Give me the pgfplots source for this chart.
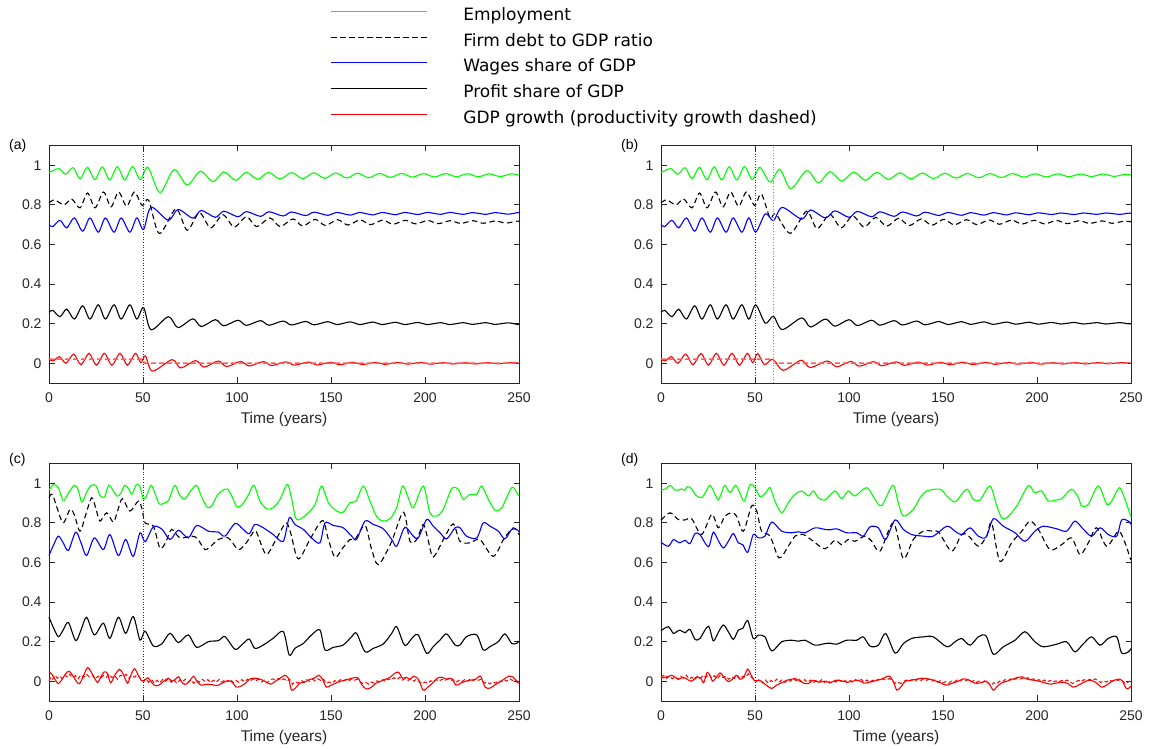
\documentclass[border=0pt]{standalone}
\usepackage{fontspec}
\setmainfont{Liberation Sans}
\newfontfamily\legfont{DejaVu Sans}
\usepackage{pgfplots}
\pgfplotsset{compat=1.18}
\definecolor{axgray}{RGB}{38,38,38}
\definecolor{mgreen}{RGB}{0,255,0}
\definecolor{prodred}{RGB}{255,90,90}
\tikzset{
 emp/.style={color=mgreen, line width=1.1pt, smooth, tension=0.5},
 debt/.style={color=black, line width=1.1pt, dash pattern=on 5.5pt off 3.5pt, smooth, tension=0.5},
 wag/.style={color=blue, line width=1.1pt, smooth, tension=0.5},
 prof/.style={color=black, line width=1.1pt, smooth, tension=0.5},
 gdp/.style={color=red, line width=1.1pt, smooth, tension=0.5},
 prod/.style={color=prodred, line width=1.5pt, dash pattern=on 5pt off 3pt},
 prodn/.style={color=red, line width=1pt, dash pattern=on 4pt off 2.5pt},
 vline/.style={color=black!80, line width=0.6pt, dotted},
 vline2/.style={color=black!45, line width=0.8pt, dotted},
}
\pgfplotsset{panel/.style={
  scale only axis, width=470pt, height=237.5pt,
  xmin=0, xmax=250, ymin=-0.1, ymax=1.1,
  xtick={0,50,100,150,200,250}, ytick={0,0.2,0.4,0.6,0.8,1},
  tick align=inside, major tick length=5.5pt,
  axis line style={color=axgray, line width=0.8pt},
  every tick/.style={color=axgray, line width=0.8pt},
  tick label style={font=\fontsize{14}{16}\selectfont, text=axgray},
  /pgf/number format/assume math mode=true,
  yticklabel style={/pgf/number format/fixed, xshift=-4pt},
  xticklabel style={yshift=-6pt},
  xlabel={Time (years)},
  xlabel style={font=\fontsize{15.5}{18}\selectfont, text=axgray, at={(axis description cs:0.5,-0.171)}, anchor=base},
  clip=false,
}}
\begin{document}
\begin{tikzpicture}
\useasboundingbox (0,0) rectangle (1152pt,749pt);
% ---------------- (a)
\begin{axis}[panel, at={(49pt,366pt)}, anchor=south west,
  legend style={draw=none, fill=none, at={(axis description cs:0.599,1.581)}, anchor=north west,
    inner sep=0pt, row sep=8.6pt, font=\legfont\fontsize{17}{20}\selectfont,
    nodes={inner sep=0pt, text height=13pt, text depth=4pt},
    /tikz/every odd column/.append style={column sep=36pt}},
  legend cell align=left,
  legend image code/.code={\draw[#1] (0pt,4.5pt) -- (95.5pt,4.5pt);}]
\addplot[emp] coordinates {(0,0.963) (2.5,0.975) (5.5,0.983) (8.9,0.955) (12.8,0.988) (16.5,0.932) (20.4,0.99) (24.4,0.927) (28.3,0.992) (32.3,0.926) (36.3,0.993) (40.3,0.926) (44.4,0.993) (48.6,0.928) (52.6,0.99) (59,0.862) (66.5,0.978) (73.5,0.9) (80.5,0.97) (87.3,0.917) (93,0.967) (99.3,0.924) (105,0.965) (111,0.929) (116.7,0.964) (122.9,0.931) (129,0.963) (135,0.932) (140.8,0.962) (146.7,0.934) (152.5,0.961) (158.4,0.936) (164.2,0.96) (170,0.937) (175.8,0.959) (181.7,0.939) (187.5,0.959) (193.4,0.94) (199.2,0.958) (205,0.941) (210.9,0.958) (216.7,0.942) (222.5,0.957) (228.4,0.942) (234.2,0.957) (240,0.943) (245.9,0.957) (250,0.95)};
\addlegendentry{Employment}
\addplot[debt] coordinates {(0,0.81) (3,0.825) (8,0.80) (12,0.83) (16.5,0.785) (20.5,0.86) (24.5,0.785) (29,0.865) (33,0.79) (37,0.865) (41.3,0.793) (45.4,0.865) (49.6,0.797) (53,0.824) (58.7,0.655) (67.5,0.78) (73.5,0.672) (80,0.76) (86,0.684) (92.5,0.75) (98.5,0.688) (105,0.74) (110.5,0.69) (117.5,0.734) (123,0.69) (129.7,0.729) (135,0.693) (141.5,0.727) (147,0.696) (153.5,0.725) (159,0.698) (165.5,0.724) (171,0.70) (177.5,0.723) (183,0.702) (189.5,0.722) (195,0.704) (201.5,0.721) (207,0.705) (213.5,0.72) (219,0.706) (225.5,0.72) (231,0.707) (237.5,0.719) (243,0.708) (249,0.718) (250,0.717)};
\addlegendentry{Firm debt to GDP ratio}
\addplot[wag] coordinates {(0,0.70) (2,0.69) (5.8,0.722) (9.4,0.684) (13.5,0.734) (17.9,0.667) (21.8,0.734) (26.2,0.662) (30,0.734) (34.6,0.662) (38.4,0.734) (43,0.662) (46.7,0.734) (50.3,0.676) (54.3,0.788) (63.5,0.722) (68.6,0.777) (76.5,0.733) (81,0.772) (88.5,0.737) (93,0.768) (100.5,0.74) (105,0.766) (112.5,0.742) (117,0.765) (124.5,0.744) (129,0.764) (136.5,0.746) (141,0.763) (148.5,0.747) (153,0.762) (160.5,0.748) (165,0.762) (172.5,0.749) (177,0.762) (184.5,0.75) (189,0.762) (196.5,0.751) (201,0.762) (208.5,0.752) (213,0.762) (220.5,0.752) (225,0.761) (232.5,0.752) (237,0.761) (244.5,0.753) (249,0.761) (250,0.76)};
\addlegendentry{Wages share of GDP}
\addplot[prof] coordinates {(0,0.257) (2,0.267) (5.8,0.235) (9.4,0.273) (13.5,0.223) (17.9,0.29) (21.8,0.223) (26.2,0.295) (30,0.223) (34.6,0.295) (38.4,0.223) (43,0.295) (46.7,0.223) (50.3,0.281) (54.3,0.169) (63.5,0.235) (68.6,0.18) (76.5,0.224) (81,0.185) (88.5,0.22) (93,0.189) (100.5,0.217) (105,0.191) (112.5,0.215) (117,0.192) (124.5,0.213) (129,0.193) (136.5,0.211) (141,0.194) (148.5,0.21) (153,0.195) (160.5,0.209) (165,0.195) (172.5,0.208) (177,0.195) (184.5,0.207) (189,0.195) (196.5,0.206) (201,0.195) (208.5,0.205) (213,0.195) (220.5,0.205) (225,0.196) (232.5,0.205) (237,0.196) (244.5,0.204) (249,0.196) (250,0.197)};
\addlegendentry{Profit share of GDP}
\addplot[gdp] coordinates {(0,0.02) (2.3,0.012) (5.6,0.033) (9,0.0) (13.2,0.046) (17,-0.008) (21.3,0.05) (25.2,-0.01) (29.5,0.05) (33.4,-0.01) (37.8,0.05) (41.7,-0.01) (46,0.05) (48.8,0.003) (51.3,0.037) (55,-0.04) (65.5,0.018) (70,-0.024) (78,0.013) (82.5,-0.02) (90,0.011) (94.5,-0.017) (102,0.009) (106.5,-0.014) (114,0.008) (118.5,-0.012) (126,0.007) (130.5,-0.01) (138,0.006) (142.5,-0.009) (150,0.005) (154.5,-0.008) (162,0.005) (166.5,-0.007) (174,0.004) (178.5,-0.006) (186,0.004) (190.5,-0.005) (198,0.004) (202.5,-0.005) (210,0.003) (214.5,-0.004) (222,0.003) (226.5,-0.004) (234,0.003) (238.5,-0.003) (246,0.003) (250,0.0)};
\addlegendentry{GDP growth (productivity growth dashed)}
\addplot[prod, forget plot] coordinates {(0,0.02) (49.5,0.02) (51,0.0) (250,0.0)};
\addplot[vline, forget plot] coordinates {(50,-0.1) (50,1.1)};
\node[anchor=west, inner sep=0pt, font=\fontsize{14}{16}\selectfont, text=black] at (rel axis cs:-0.0851,1) {(a)};
\end{axis}
% ---------------- (b)
\begin{axis}[panel, at={(661pt,366pt)}, anchor=south west]
\addplot[emp] coordinates {(0,0.963) (2.5,0.975) (5.5,0.983) (8.9,0.955) (12.8,0.988) (16.5,0.932) (20.4,0.99) (24.4,0.927) (28.3,0.992) (32.3,0.926) (36.3,0.993) (40.3,0.926) (44.4,0.993) (48.6,0.928) (52.6,0.99) (58,0.915) (63.2,0.98) (69,0.882) (77.5,0.973) (83.7,0.911) (89.9,0.968) (96.1,0.92) (102.5,0.966) (108.7,0.924) (114.8,0.964) (121,0.928) (127,0.962) (133,0.931) (139,0.961) (145,0.933) (151,0.96) (157,0.935) (163,0.959) (169,0.937) (175,0.958) (181,0.938) (187,0.958) (193,0.94) (199,0.957) (205,0.941) (211,0.957) (217,0.942) (223,0.956) (229,0.943) (235,0.956) (241,0.944) (247,0.955) (250,0.95)};
\addplot[debt] coordinates {(0,0.81) (3,0.825) (8,0.80) (12,0.83) (16.5,0.785) (20.5,0.86) (24.5,0.785) (29,0.865) (33,0.79) (37,0.865) (41.3,0.793) (45.4,0.865) (49.8,0.797) (53.4,0.855) (58,0.734) (61,0.755) (68.8,0.656) (77.5,0.768) (83,0.68) (89.8,0.752) (95.8,0.684) (102,0.744) (108,0.688) (114.2,0.737) (120,0.692) (126.4,0.732) (132,0.695) (138.5,0.729) (144,0.697) (150.5,0.727) (156,0.699) (162.5,0.725) (168,0.7) (174.5,0.724) (180,0.702) (186.5,0.723) (192,0.703) (198.5,0.722) (204,0.704) (210.5,0.721) (216,0.705) (222.5,0.72) (228,0.706) (234.5,0.719) (240,0.707) (246.5,0.718) (250,0.714)};
\addplot[wag] coordinates {(0,0.70) (2,0.69) (5.8,0.722) (9.4,0.684) (13.5,0.734) (17.9,0.667) (21.8,0.734) (26.2,0.662) (30,0.734) (34.6,0.662) (38.4,0.734) (43,0.662) (46.7,0.734) (50.4,0.663) (55.5,0.755) (59.8,0.72) (64.5,0.787) (74.8,0.728) (79.5,0.774) (87.5,0.734) (92.5,0.77) (100,0.737) (104.5,0.767) (112,0.74) (116.5,0.765) (124,0.742) (128.5,0.764) (136,0.744) (140.5,0.763) (148,0.746) (152.5,0.762) (160,0.747) (164.5,0.761) (172,0.748) (176.5,0.761) (184,0.749) (188.5,0.76) (196,0.75) (200.5,0.76) (208,0.751) (212.5,0.759) (220,0.751) (224.5,0.759) (232,0.752) (236.5,0.759) (244,0.752) (248.5,0.758) (250,0.757)};
\addplot[prof] coordinates {(0,0.257) (2,0.267) (5.8,0.235) (9.4,0.273) (13.5,0.223) (17.9,0.29) (21.8,0.223) (26.2,0.295) (30,0.223) (34.6,0.295) (38.4,0.223) (43,0.295) (46.7,0.223) (50.4,0.294) (55.5,0.202) (59.8,0.237) (64.5,0.17) (74.8,0.229) (79.5,0.183) (87.5,0.223) (92.5,0.187) (100,0.22) (104.5,0.19) (112,0.217) (116.5,0.192) (124,0.215) (128.5,0.193) (136,0.213) (140.5,0.194) (148,0.211) (152.5,0.195) (160,0.21) (164.5,0.196) (172,0.209) (176.5,0.196) (184,0.208) (188.5,0.197) (196,0.207) (200.5,0.197) (208,0.206) (212.5,0.198) (220,0.206) (224.5,0.198) (232,0.205) (236.5,0.198) (244,0.205) (248.5,0.199) (250,0.2)};
\addplot[gdp] coordinates {(0,0.02) (2.3,0.012) (5.6,0.033) (9,0.0) (13.2,0.046) (17,-0.008) (21.3,0.05) (25.2,-0.01) (29.5,0.05) (33.4,-0.01) (37.8,0.05) (41.7,-0.01) (46,0.05) (48.8,0.002) (51.4,0.049) (55,-0.007) (59.5,0.02) (65,-0.036) (74.5,0.015) (79.3,-0.022) (88.5,0.011) (93.5,-0.018) (101,0.009) (105.5,-0.015) (113,0.008) (117.5,-0.013) (125,0.007) (129.5,-0.011) (137,0.006) (141.5,-0.01) (149,0.005) (153.5,-0.008) (161,0.005) (165.5,-0.007) (173,0.004) (177.5,-0.006) (185,0.004) (189.5,-0.005) (197,0.004) (201.5,-0.005) (209,0.003) (213.5,-0.004) (221,0.003) (225.5,-0.004) (233,0.003) (237.5,-0.003) (245,0.003) (250,0.0)};
\addplot[prod] coordinates {(0,0.02) (59.5,0.02) (61,0.0) (250,0.0)};
\addplot[vline] coordinates {(50,-0.1) (50,1.1)};
\addplot[vline2] coordinates {(60,-0.1) (60,1.1)};
\node[anchor=west, inner sep=0pt, font=\fontsize{14}{16}\selectfont, text=black] at (rel axis cs:-0.0851,1) {(b)};
\end{axis}
% ---------------- (c)
\begin{axis}[panel, at={(49pt,48pt)}, anchor=south west]
\addplot[emp] coordinates {(0,0.965) (2.3,0.993) (5,0.978) (7.6,0.912) (10.3,0.95) (13.5,0.99) (15.6,0.965) (17.5,0.905) (20.3,0.96) (22.5,0.99) (25,0.988) (27,0.94) (29.5,0.93) (31.7,0.99) (34,0.965) (36.2,0.935) (38.2,0.95) (40.2,0.99) (42.2,0.975) (44.2,0.945) (46.2,0.99) (48.2,0.988) (50.2,0.92) (51.8,0.935) (54.3,0.99) (56.5,0.945) (58.7,0.895) (61.3,0.9) (63.7,0.915) (66.9,0.99) (69.5,0.94) (72.2,0.92) (75.3,0.96) (78.5,0.99) (80.8,0.94) (84,0.88) (86.5,0.885) (89.5,0.94) (92.5,0.965) (95,0.97) (97.5,0.93) (100,0.88) (103,0.895) (106,0.94) (109,0.99) (112.2,0.91) (115.8,0.87) (119.3,0.877) (122.9,0.919) (126.8,0.995) (129.1,0.92) (131.7,0.817) (137,0.843) (141.5,0.893) (145,0.986) (148.6,0.902) (153,0.86) (156.5,0.854) (160.1,0.902) (163.3,0.91) (167.2,0.986) (170.7,0.91) (174.3,0.831) (177.8,0.809) (181.4,0.821) (184.9,0.876) (188.1,0.986) (191.1,0.927) (193.8,0.876) (199.1,0.986) (202.6,0.851) (206.2,0.834) (209.7,0.868) (214.2,0.973) (217.7,0.97) (220.4,0.919) (223.9,0.944) (227.5,0.944) (230.1,0.986) (233.7,0.919) (237.2,0.865) (240.8,0.876) (246.1,0.978) (248.7,0.955) (250,0.935)};
\addplot[debt] coordinates {(0,0.927) (1.8,0.944) (4.5,0.87) (7.6,0.8) (11.2,0.868) (13.5,0.84) (16.5,0.758) (19.5,0.84) (22.7,0.927) (25,0.87) (27.1,0.809) (30.7,0.851) (34.2,0.804) (36.5,0.86) (39,0.922) (43.1,0.86) (47.5,0.91) (49.5,0.87) (51.1,0.8) (55.5,0.784) (59,0.673) (62,0.7) (65.2,0.767) (69.7,0.724) (75.9,0.733) (79,0.72) (83,0.665) (87,0.69) (90.1,0.716) (95.4,0.724) (100.7,0.665) (105,0.7) (109.6,0.761) (112.5,0.7) (115.8,0.64) (121,0.72) (126,0.8) (128.5,0.75) (132.6,0.618) (139,0.72) (145.5,0.812) (148.5,0.72) (152.1,0.626) (156,0.67) (160.1,0.716) (163,0.72) (168.1,0.787) (171.5,0.67) (175.2,0.589) (182,0.7) (188.5,0.854) (192,0.707) (195.6,0.716) (199.1,0.792) (201.5,0.72) (204.4,0.628) (210,0.72) (215,0.795) (218.6,0.707) (223.9,0.699) (229.2,0.716) (236.3,0.631) (242,0.72) (247,0.775) (250,0.741)};
\addplot[wag] coordinates {(0,0.635) (2.5,0.69) (5,0.733) (7.5,0.7) (10.3,0.661) (14.2,0.753) (17,0.7) (20,0.635) (24.1,0.724) (28.9,0.665) (32.4,0.741) (36.9,0.635) (40.8,0.716) (44.8,0.631) (48.4,0.75) (51.1,0.705) (55.5,0.78) (59.9,0.77) (64.4,0.716) (68.8,0.763) (74.1,0.724) (78.5,0.787) (84.8,0.758) (90.1,0.753) (93.6,0.733) (99,0.797) (103,0.77) (106.5,0.745) (109.5,0.792) (114,0.775) (119.3,0.741) (124.6,0.707) (127.8,0.826) (130.8,0.792) (135.3,0.767) (139.7,0.724) (144.1,0.699) (146.8,0.8) (151.2,0.787) (156.5,0.775) (161,0.733) (163.6,0.716) (168.1,0.809) (172.5,0.792) (177.8,0.77) (182.3,0.716) (184.9,0.682) (188.5,0.767) (190.2,0.775) (193.8,0.733) (196.4,0.724) (200.9,0.817) (204.4,0.783) (208,0.75) (211.5,0.719) (216,0.775) (218.6,0.775) (222.1,0.733) (227.5,0.724) (231,0.8) (234.6,0.783) (239,0.758) (242.5,0.719) (246.1,0.767) (248.7,0.767) (250,0.755)};
\addplot[prof] coordinates {(0,0.323) (2.5,0.268) (5,0.225) (7.5,0.258) (10.3,0.297) (14.2,0.205) (17,0.258) (20,0.323) (24.1,0.234) (28.9,0.293) (32.4,0.217) (36.9,0.323) (40.8,0.242) (44.8,0.327) (48.4,0.208) (51.1,0.253) (55.5,0.178) (59.9,0.188) (64.4,0.242) (68.8,0.195) (74.1,0.234) (78.5,0.171) (84.8,0.2) (90.1,0.205) (93.6,0.225) (99,0.161) (103,0.188) (106.5,0.213) (109.5,0.166) (114,0.183) (119.3,0.217) (124.6,0.251) (127.8,0.132) (130.8,0.166) (135.3,0.191) (139.7,0.234) (144.1,0.259) (146.8,0.158) (151.2,0.171) (156.5,0.183) (161,0.225) (163.6,0.242) (168.1,0.149) (172.5,0.166) (177.8,0.188) (182.3,0.242) (184.9,0.276) (188.5,0.191) (190.2,0.183) (193.8,0.225) (196.4,0.234) (200.9,0.141) (204.4,0.175) (208,0.208) (211.5,0.239) (216,0.183) (218.6,0.183) (222.1,0.225) (227.5,0.234) (231,0.158) (234.6,0.175) (239,0.2) (242.5,0.239) (246.1,0.191) (248.7,0.191) (250,0.203)};
\addplot[gdp] coordinates {(0,0.05) (1.5,0.035) (3,0.012) (5,-0.012) (7,0.01) (9,0.04) (10.8,0.05) (12.5,0.03) (14.5,0.0) (16.2,-0.013) (18,0.02) (20.5,0.068) (22.5,0.045) (24,0.02) (25.8,-0.006) (27.5,0.02) (29.3,0.047) (31,0.04) (32.8,-0.008) (35,0.03) (37.5,0.06) (39.5,0.035) (41.8,-0.01) (43.5,0.03) (45.5,0.063) (47.5,0.03) (49,0.005) (50.5,0.0) (52.5,0.018) (54.5,-0.005) (56.3,-0.022) (58.5,-0.02) (61,0.0) (63.5,0.015) (65.5,0.0) (67.5,0.012) (69,0.022) (71,-0.01) (73,-0.015) (75.5,0.01) (77,0.025) (79,-0.005) (81,-0.02) (84,-0.015) (87,-0.018) (89.5,-0.022) (92,-0.01) (95,0.002) (97.5,-0.005) (99.5,-0.03) (102,-0.025) (104.5,-0.01) (107,0.012) (110,0.015) (113,0.008) (115.5,-0.005) (118,-0.015) (120.5,0.0) (123,0.015) (125.5,0.03) (127.5,0.012) (129,-0.045) (131,-0.035) (133.5,-0.01) (136,-0.005) (138.5,0.008) (141,0.015) (143.5,0.03) (145.5,0.01) (147.5,-0.03) (150,-0.02) (152.5,-0.01) (155,0.0) (157.5,0.005) (160,0.012) (162.5,0.018) (164.5,0.015) (166.5,-0.02) (169,-0.04) (171.5,-0.03) (174,-0.01) (176.5,0.0) (179,0.01) (181.5,0.02) (184,0.04) (186,0.045) (188,0.015) (190,0.02) (192,0.01) (194,0.025) (196.5,0.01) (199,-0.045) (201.5,-0.03) (204,-0.01) (206.5,0.015) (209,0.02) (211.5,0.01) (214,0.015) (216.5,-0.02) (219,-0.01) (221.5,0.0) (224,0.005) (227,0.01) (229.5,0.025) (232,-0.03) (234.5,-0.035) (237,-0.02) (239.5,-0.005) (242,0.01) (244.5,0.025) (247,0.02) (249,-0.005) (250,-0.01)};
\addplot[prodn] coordinates {(0,0.0) (1,0.02) (2,0.01) (3,0.03) (4.5,0.015) (6,0.025) (7,0.012) (8.5,0.03) (10,0.02) (11,0.035) (12.5,0.018) (14,0.028) (15.5,0.012) (17,0.032) (18.5,0.02) (20,0.035) (21.5,0.022) (23,0.03) (24.5,0.012) (26,0.025) (27.5,0.015) (29,0.03) (30.5,0.02) (32,0.035) (33.5,0.018) (35,0.028) (36.5,0.01) (38,0.03) (39.5,0.025) (41,0.035) (42.5,0.015) (44,0.03) (45.5,0.02) (47,0.033) (48.5,0.015) (50,0.0) (51.5,0.012) (53,-0.005) (54.5,0.008) (56,-0.01) (57.5,0.005) (59,-0.008) (60.5,0.01) (62,0.0) (63.5,0.012) (65,-0.005) (66.5,0.008) (68,-0.012) (69.5,0.005) (71,-0.003) (72.5,0.01) (74,-0.006) (75.5,0.006) (77,-0.01) (78.5,0.004) (80,-0.005) (81.5,0.01) (83,-0.002) (84.5,0.008) (86,-0.008) (87.5,0.005) (89,-0.004) (90.5,0.009) (92,-0.006) (93.5,0.006) (95,-0.002) (96.5,0.01) (98,-0.008) (99.5,0.004) (101,-0.006) (102.5,0.008) (104,-0.003) (105.5,0.01) (107,0.0) (108.5,0.012) (110,0.002) (111.5,0.01) (113,-0.004) (114.5,0.006) (116,-0.008) (117.5,0.005) (119,0.012) (120.5,0.004) (122,0.014) (123.5,0.005) (125,0.012) (126.5,0.0) (128,0.01) (129.5,-0.015) (131,-0.002) (132.5,-0.01) (134,0.004) (135.5,-0.004) (137,0.008) (138.5,0.0) (140,0.01) (141.5,0.002) (143,0.012) (144.5,0.004) (146,0.01) (147.5,-0.012) (149,-0.004) (150.5,-0.01) (152,0.003) (153.5,-0.005) (155,0.008) (156.5,0.0) (158,0.01) (159.5,0.002) (161,0.012) (162.5,0.005) (164,0.01) (165.5,-0.004) (167,-0.012) (168.5,-0.006) (170,-0.015) (171.5,-0.004) (173,-0.01) (174.5,0.002) (176,-0.004) (177.5,0.008) (179,0.0) (180.5,0.012) (182,0.005) (183.5,0.018) (185,0.008) (186.5,0.02) (188,0.006) (189.5,0.015) (191,0.004) (192.5,0.012) (194,0.0) (195.5,0.01) (197,-0.004) (198.5,-0.012) (200,-0.004) (201.5,-0.01) (203,0.002) (204.5,-0.004) (206,0.008) (207.5,0.0) (209,0.01) (210.5,0.002) (212,0.012) (213.5,0.004) (215,0.008) (216.5,-0.006) (218,0.004) (219.5,-0.004) (221,0.008) (222.5,0.0) (224,0.01) (225.5,0.002) (227,0.012) (228.5,0.005) (230,0.01) (231.5,-0.01) (233,-0.004) (234.5,-0.014) (236,-0.004) (237.5,-0.01) (239,0.002) (240.5,-0.003) (242,0.008) (243.5,0.0) (245,0.012) (246.5,0.004) (248,0.01) (249.5,-0.004) (250,-0.002)};
\addplot[vline] coordinates {(50,-0.1) (50,1.1)};
\node[anchor=west, inner sep=0pt, font=\fontsize{14}{16}\selectfont, text=black] at (rel axis cs:-0.0851,1.015) {(c)};
\end{axis}
% ---------------- (d)
\begin{axis}[panel, at={(661pt,48pt)}, anchor=south west]
\addplot[emp] coordinates {(0,0.965) (2.5,0.972) (4.8,0.99) (7.4,0.966) (9,0.965) (11,0.972) (12.5,0.965) (14,0.983) (16,0.975) (18.5,0.94) (21.6,0.927) (24,0.96) (26.1,0.99) (28.5,0.95) (30.5,0.915) (32.5,0.96) (34,0.99) (36.7,0.953) (39.7,0.99) (42,0.95) (44.3,0.91) (47.3,0.992) (50,0.978) (52.7,0.932) (55.5,0.95) (58,0.978) (60.6,0.91) (64.2,0.851) (67.7,0.902) (71.3,0.944) (74.8,0.961) (78.4,0.936) (81,0.961) (83.7,0.927) (87.2,0.915) (92.5,0.961) (96.1,0.922) (99.6,0.961) (103.2,0.936) (109.4,0.978) (113.8,0.919) (117.4,0.888) (123.3,0.99) (126.2,0.902) (128.9,0.834) (134.2,0.868) (137.8,0.927) (141.3,0.961) (148.4,0.97) (152,0.936) (156.4,0.905) (159.9,0.944) (163,0.97) (166.1,0.919) (169.7,0.915) (175,0.986) (178.6,0.885) (181.2,0.826) (183.9,0.826) (189.2,0.885) (194.5,0.978) (196.3,0.986) (198.9,0.952) (202.5,0.961) (206,0.91) (209.6,0.915) (213.1,0.922) (218.4,0.97) (222,0.927) (223.8,0.885) (227.3,0.894) (232.6,0.986) (237.1,0.894) (239.7,0.91) (243.8,0.978) (246.8,0.919) (249.5,0.843) (250,0.835)};
\addplot[debt] coordinates {(0,0.814) (4.8,0.851) (9.2,0.817) (13,0.815) (16.3,0.821) (21.6,0.741) (27,0.843) (30.5,0.775) (34,0.834) (37.6,0.851) (40.2,0.834) (43.8,0.758) (48.2,0.885) (50.9,0.86) (53.5,0.758) (58,0.733) (62.8,0.623) (67.7,0.682) (71.3,0.733) (75.7,0.741) (81,0.707) (87.2,0.669) (92.5,0.712) (96.1,0.69) (99.6,0.716) (103.2,0.707) (108.5,0.733) (112.1,0.707) (116.5,0.657) (123.6,0.8) (128.9,0.62) (134.2,0.716) (139.5,0.758) (144.9,0.758) (148,0.75) (154.6,0.657) (159.9,0.741) (163.5,0.735) (168.8,0.682) (173.2,0.733) (175.9,0.8) (180.3,0.606) (186.5,0.699) (191.9,0.758) (196.3,0.809) (200.7,0.767) (206.9,0.665) (213.1,0.69) (218.4,0.724) (222.9,0.64) (227.3,0.699) (231.7,0.775) (237.1,0.682) (243.3,0.758) (246.8,0.7) (249.5,0.623) (250,0.615)};
\addplot[wag] coordinates {(0,0.702) (3.9,0.682) (6.6,0.716) (8.5,0.705) (10.1,0.699) (12.8,0.712) (15.4,0.695) (18.1,0.746) (20.7,0.741) (25.2,0.679) (27.8,0.753) (30.5,0.71) (33.2,0.673) (36,0.71) (38.5,0.746) (41.1,0.699) (43.5,0.69) (46.1,0.651) (49.1,0.741) (51.8,0.724) (55.3,0.733) (58.9,0.804) (64.2,0.758) (69.5,0.75) (73,0.755) (76.6,0.75) (81.9,0.775) (87.2,0.767) (90,0.765) (93.4,0.77) (98.8,0.75) (104.1,0.75) (107.6,0.733) (111.2,0.78) (115.6,0.775) (119.5,0.716) (124.5,0.815) (128.9,0.767) (133.3,0.741) (139.5,0.733) (144.9,0.733) (152,0.783) (156.4,0.758) (159.9,0.741) (164.4,0.775) (168.8,0.733) (172.9,0.728) (176.8,0.821) (182.1,0.783) (188.3,0.75) (193.6,0.707) (198.9,0.758) (203.4,0.783) (210.5,0.77) (215.8,0.758) (220.2,0.809) (224.7,0.767) (229.1,0.733) (233.5,0.775) (237.9,0.741) (242.4,0.733) (245,0.814) (248.6,0.809) (250,0.792)};
\addplot[prof] coordinates {(0,0.255) (3.9,0.275) (6.6,0.241) (8.5,0.252) (10.1,0.258) (12.8,0.245) (15.4,0.262) (18.1,0.211) (20.7,0.216) (25.2,0.278) (27.8,0.204) (30.5,0.247) (33.2,0.284) (36,0.247) (38.5,0.211) (41.1,0.258) (43.5,0.267) (46.1,0.306) (49.1,0.216) (51.8,0.233) (55.3,0.224) (58.9,0.153) (64.2,0.199) (69.5,0.207) (73,0.202) (76.6,0.207) (81.9,0.182) (87.2,0.19) (90,0.192) (93.4,0.187) (98.8,0.207) (104.1,0.207) (107.6,0.224) (111.2,0.177) (115.6,0.182) (119.5,0.241) (124.5,0.142) (128.9,0.19) (133.3,0.216) (139.5,0.224) (144.9,0.224) (152,0.174) (156.4,0.199) (159.9,0.216) (164.4,0.182) (168.8,0.224) (172.9,0.229) (176.8,0.136) (182.1,0.174) (188.3,0.207) (193.6,0.25) (198.9,0.199) (203.4,0.174) (210.5,0.187) (215.8,0.199) (220.2,0.148) (224.7,0.19) (229.1,0.224) (233.5,0.182) (237.9,0.216) (242.4,0.224) (245,0.143) (248.6,0.148) (250,0.165)};
\addplot[gdp] coordinates {(0,0.015) (2,0.02) (4,0.025) (5.7,0.03) (7.5,0.02) (9.5,0.01) (11.5,0.02) (13.5,0.012) (16.3,0.0) (19,0.022) (21.5,0.01) (22.7,-0.008) (24.5,0.044) (26,0.03) (27.5,0.0) (29.5,0.02) (31.4,0.042) (33.5,0.02) (35.8,-0.002) (38,0.01) (40,0.03) (42,0.01) (44,0.02) (46.1,0.061) (48,0.03) (50,0.0) (52,0.005) (54,-0.005) (56,-0.02) (58.9,-0.037) (61.5,-0.02) (64.2,-0.008) (67,0.005) (69.5,0.01) (71.3,0.014) (74,0.0) (76,-0.01) (78.4,-0.012) (81,0.005) (84,-0.005) (87,0.0) (90,-0.008) (93,0.005) (96,0.002) (99,-0.005) (102,0.0) (105,0.005) (108,-0.01) (111,-0.005) (114,0.002) (117,0.01) (119.5,0.02) (121.5,0.026) (123.5,0.0) (125.4,-0.045) (127.5,-0.03) (130,0.0) (133,0.005) (136,0.01) (139,0.015) (142,0.012) (145,0.005) (148,-0.005) (150,-0.015) (152,-0.02) (155,-0.01) (158,0.0) (161,0.012) (164,0.005) (167,-0.01) (170,-0.008) (173,0.0) (175,-0.02) (176.8,-0.046) (178.5,-0.03) (181,-0.01) (184,0.0) (187,0.01) (190,0.02) (192,0.022) (195,0.01) (198,0.005) (201,0.0) (204,-0.008) (207,-0.015) (210,-0.01) (213,-0.005) (216,-0.01) (219.3,-0.03) (222,-0.02) (225,-0.005) (228,0.005) (231,-0.005) (234.4,-0.03) (237,-0.02) (240,0.0) (243,0.01) (245,0.005) (247.7,-0.038) (250,-0.025)};
\addplot[prodn] coordinates {(0,0.02) (1.5,0.03) (3,0.015) (4.5,0.025) (6,0.012) (7.5,0.022) (9,0.01) (10.5,0.025) (12,0.015) (13.5,0.03) (15,0.012) (16.5,0.02) (18,0.008) (19.5,0.025) (21,0.015) (22.5,0.03) (24,0.02) (25.5,0.035) (27,0.015) (28.5,0.028) (30,0.012) (31.5,0.03) (33,0.018) (34.5,0.025) (36,0.01) (37.5,0.022) (39,0.015) (40.5,0.03) (42,0.012) (43.5,0.025) (45,0.02) (46.5,0.038) (48,0.02) (49.5,0.01) (51,0.0) (52.5,0.01) (54,-0.008) (55.5,0.006) (57,-0.01) (58.5,0.004) (60,-0.006) (61.5,0.01) (63,-0.004) (64.5,0.008) (66,-0.006) (67.5,0.01) (69,0.0) (70.5,0.012) (72,0.002) (73.5,0.01) (75,-0.004) (76.5,0.008) (78,-0.006) (79.5,0.006) (81,-0.008) (82.5,0.004) (84,-0.004) (85.5,0.008) (87,-0.006) (88.5,0.005) (90,-0.008) (91.5,0.003) (93,-0.004) (94.5,0.008) (96,-0.002) (97.5,0.006) (99,-0.006) (100.5,0.004) (102,-0.004) (103.5,0.008) (105,0.0) (106.5,0.009) (108,-0.004) (109.5,0.006) (111,-0.006) (112.5,0.005) (114,0.0) (115.5,0.01) (117,0.004) (118.5,0.012) (120,0.006) (121.5,0.014) (123,0.002) (124.5,-0.01) (126,-0.004) (127.5,-0.012) (129,-0.002) (130.5,0.006) (132,-0.002) (133.5,0.008) (135,0.0) (136.5,0.01) (138,0.002) (139.5,0.012) (141,0.004) (142.5,0.01) (144,0.0) (145.5,0.006) (147,-0.006) (148.5,0.002) (150,-0.008) (151.5,-0.002) (153,-0.01) (154.5,0.0) (156,-0.004) (157.5,0.006) (159,0.0) (160.5,0.01) (162,0.002) (163.5,0.008) (165,-0.004) (166.5,0.004) (168,-0.006) (169.5,0.002) (171,-0.006) (172.5,0.004) (174,-0.01) (175.5,-0.02) (177,-0.008) (178.5,-0.014) (180,0.0) (181.5,-0.004) (183,0.008) (184.5,0.002) (186,0.012) (187.5,0.006) (189,0.014) (190.5,0.008) (192,0.016) (193.5,0.01) (195,0.018) (196.5,0.008) (198,0.012) (199.5,0.002) (201,0.008) (202.5,-0.002) (204,0.006) (205.5,-0.004) (207,0.004) (208.5,-0.006) (210,0.002) (211.5,-0.004) (213,0.004) (214.5,-0.002) (216,0.006) (217.5,-0.004) (219,-0.012) (220.5,-0.004) (222,0.004) (223.5,-0.002) (225,0.008) (226.5,0.002) (228,0.01) (229.5,0.004) (231,0.012) (232.5,0.0) (234,-0.006) (235.5,0.002) (237,-0.004) (238.5,0.006) (240,0.0) (241.5,0.01) (243,0.004) (244.5,0.008) (246,-0.004) (247.5,-0.012) (249,0.0) (250,-0.004)};
\addplot[vline] coordinates {(50,-0.1) (50,1.1)};
\node[anchor=west, inner sep=0pt, font=\fontsize{14}{16}\selectfont, text=black] at (rel axis cs:-0.0851,1.015) {(d)};
\end{axis}
\end{tikzpicture}
\end{document}
